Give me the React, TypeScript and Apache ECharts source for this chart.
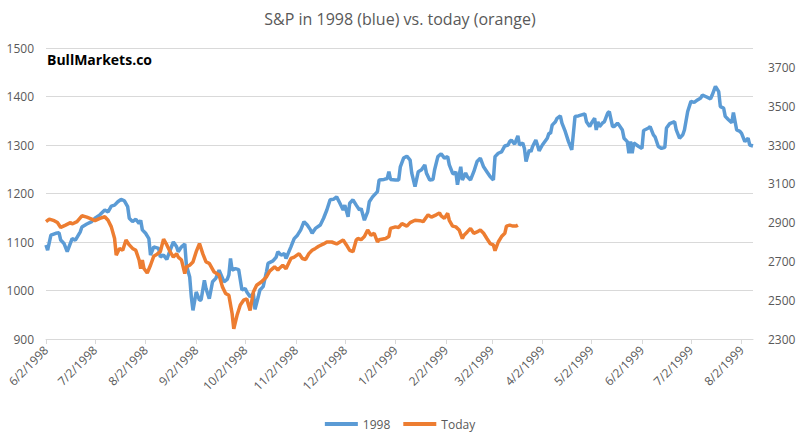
import React, { useEffect, useRef } from "react";
import * as echarts from "echarts";

// Calendar-day offsets from 6/2/1998 paired with values
const startDate = Date.UTC(1998, 5, 2);
const dayCount = 434; // 6/2/1998 .. 8/8/1999

const series1998: [number, number][] = [
  [0,1094],[1,1083],[3,1114],[6,1118],[8,1119],[9,1104],[11,1097],[13,1080],[16,1107],[18,1104],[21,1121],[22,1131],[25,1137],[28,1142],[30,1149],[33,1156],[36,1166],[38,1162],[40,1174],[42,1176],[44,1183],[46,1188],[48,1185],[50,1173],[51,1149],[53,1142],[55,1147],[57,1138],[58,1145],[59,1125],[61,1118],[63,1107],[64,1073],[66,1090],[69,1087],[70,1069],[72,1073],[74,1064],[76,1083],[78,1100],[80,1090],[81,1080],[83,1090],[85,1096],[86,1052],[88,1028],[89,987],[90,959],[92,997],[94,980],[95,981],[97,1021],[98,1004],[100,983],[102,1018],[104,1025],[106,1042],[109,1018],[111,1023],[112,1032],[113,1066],[114,1042],[116,1045],[118,1043],[120,1001],[122,1004],[123,997],[125,987],[127,994],[128,961],[130,987],[131,1001],[133,1008],[135,1038],[136,1056],[139,1061],[141,1069],[142,1080],[144,1073],[146,1076],[147,1066],[150,1090],[152,1107],[154,1114],[156,1125],[158,1142],[160,1135],[162,1125],[163,1118],[165,1128],[168,1135],[170,1149],[172,1166],[174,1187],[176,1188],[178,1193],[180,1180],[182,1166],[183,1176],[185,1152],[186,1180],[188,1187],[190,1176],[192,1166],[193,1169],[195,1145],[197,1162],[198,1183],[200,1193],[203,1204],[204,1228],[207,1229],[209,1231],[210,1245],[211,1229],[214,1228],[216,1228],[217,1255],[219,1273],[221,1277],[223,1269],[224,1242],[226,1214],[228,1245],[230,1249],[232,1259],[233,1242],[235,1228],[237,1229],[238,1249],[240,1276],[242,1282],[244,1273],[246,1276],[247,1259],[249,1242],[250,1240],[251,1245],[252,1218],[254,1255],[255,1228],[257,1242],[258,1235],[260,1228],[262,1245],[264,1266],[266,1273],[268,1255],[270,1245],[272,1235],[274,1228],[275,1276],[277,1283],[279,1286],[281,1298],[283,1300],[284,1307],[285,1310],[287,1302],[289,1319],[290,1300],[292,1304],[293,1293],[294,1266],[296,1290],[297,1286],[298,1297],[300,1310],[301,1300],[302,1288],[304,1300],[307,1314],[308,1324],[309,1324],[310,1341],[312,1348],[313,1355],[315,1360],[316,1345],[318,1328],[320,1307],[322,1290],[323,1324],[324,1359],[326,1360],[328,1362],[330,1364],[331,1348],[333,1338],[334,1345],[336,1355],[337,1331],[338,1348],[339,1338],[341,1346],[342,1348],[344,1366],[345,1369],[347,1338],[348,1338],[350,1345],[351,1341],[353,1331],[354,1314],[356,1307],[357,1283],[358,1307],[359,1283],[360,1304],[363,1297],[365,1293],[366,1330],[369,1335],[370,1338],[372,1321],[373,1317],[375,1297],[377,1293],[379,1295],[380,1335],[382,1344],[385,1348],[386,1331],[388,1314],[390,1321],[391,1331],[393,1369],[395,1390],[397,1388],[399,1393],[401,1397],[402,1403],[404,1400],[407,1395],[408,1403],[410,1421],[412,1410],[413,1379],[415,1376],[416,1359],[418,1352],[420,1346],[421,1367],[423,1331],[425,1328],[426,1324],[428,1307],[430,1314],[431,1300],[433,1298]
];

const seriesToday: [number, number][] = [
  [0,2905],[2,2918],[5,2910],[7,2900],[9,2875],[12,2887],[15,2900],[16,2893],[19,2905],[22,2935],[25,2928],[28,2918],[30,2910],[33,2922],[36,2930],[38,2912],[40,2878],[42,2818],[43,2732],[45,2767],[47,2757],[49,2810],[51,2785],[53,2767],[55,2757],[57,2707],[58,2663],[59,2707],[60,2663],[62,2640],[64,2680],[66,2727],[68,2737],[70,2750],[72,2815],[74,2785],[76,2750],[78,2722],[80,2740],[81,2722],[83,2707],[85,2637],[86,2672],[88,2680],[90,2697],[92,2750],[94,2792],[96,2740],[98,2697],[100,2690],[103,2645],[106,2630],[108,2570],[110,2535],[112,2525],[114,2430],[115,2352],[117,2422],[119,2475],[121,2500],[123,2507],[124,2475],[125,2447],[127,2542],[129,2577],[132,2595],[135,2620],[137,2650],[140,2672],[142,2655],[143,2665],[145,2680],[147,2662],[150,2715],[152,2722],[155,2740],[157,2715],[159,2710],[161,2740],[163,2757],[165,2767],[167,2778],[170,2790],[172,2800],[175,2800],[178,2790],[180,2800],[182,2810],[184,2785],[186,2757],[188,2750],[190,2810],[191,2818],[193,2812],[195,2828],[197,2862],[199,2835],[201,2845],[203,2800],[204,2812],[208,2818],[210,2828],[211,2870],[214,2878],[216,2875],[218,2895],[221,2882],[223,2900],[226,2912],[229,2910],[231,2905],[234,2940],[236,2928],[239,2940],[241,2950],[242,2935],[244,2922],[246,2948],[247,2912],[249,2882],[251,2878],[253,2862],[255,2818],[256,2835],[258,2852],[260,2870],[262,2845],[264,2852],[266,2862],[268,2845],[270,2818],[272,2792],[274,2785],[275,2755],[277,2800],[279,2828],[281,2845],[282,2882],[284,2887],[286,2882],[288,2882],[289,2887]
];

const leftTicks = { min: 900, max: 1500, interval: 100 };
const rightTicks = { min: 2300, max: 3800, interval: 100, labelStep: 200, lastLabel: 3700 };

function buildCategories(): string[] {
  const out: string[] = [];
  for (let i = 0; i < dayCount; i++) {
    const d = new Date(startDate + i * 86400000);
    out.push(`${d.getUTCMonth() + 1}/${d.getUTCDate()}/${d.getUTCFullYear()}`);
  }
  return out;
}

const FONT = "'Open Sans', 'Noto Sans', sans-serif";
const GREY = "#595959";

export default function App() {
  const ref = useRef<HTMLDivElement>(null);
  useEffect(() => {
    if (!ref.current) return;
    const chart = echarts.init(ref.current, undefined, { renderer: "svg" });
    const categories = buildCategories();
    const isSecond = (_: number, v: string) => v.split("/")[1] === "2";
    chart.setOption({
      animation: false,
      backgroundColor: "#ffffff",
      textStyle: { fontFamily: FONT },
      title: {
        text: "S&P in 1998 (blue) vs. today (orange)",
        left: "center",
        top: 6,
        textStyle: { fontFamily: FONT, fontSize: 16, fontWeight: "normal", color: GREY },
      },
      graphic: [
        {
          type: "text",
          left: 47,
          top: 52,
          style: { text: "BullMarkets.co", font: `bold 14px ${FONT}`, fill: "#000000" },
        },
      ],
      legend: {
        bottom: 5,
        left: "center",
        icon: "rect",
        itemWidth: 33,
        itemHeight: 4,
        itemGap: 13,
        textStyle: { fontFamily: FONT, fontSize: 12, color: GREY },
        data: ["1998", "Today"],
      },
      grid: { left: 46, right: 47, top: 48, bottom: 101 },
      xAxis: {
        type: "category",
        data: categories,
        boundaryGap: false,
        axisLine: { lineStyle: { color: "#d9d9d9" } },
        axisTick: { interval: isSecond, length: 5, lineStyle: { color: "#d9d9d9" } },
        axisLabel: {
          interval: isSecond,
          rotate: 45,
          margin: 9,
          fontFamily: FONT,
          fontSize: 12,
          color: GREY,
        },
        splitLine: { show: false },
      },
      yAxis: [
        {
          type: "value",
          min: leftTicks.min,
          max: leftTicks.max,
          interval: leftTicks.interval,
          axisLine: { show: false },
          axisTick: { show: false },
          axisLabel: {
            margin: 12,
            fontFamily: FONT,
            fontSize: 12,
            color: GREY,
            formatter: (v: number) => String(v),
          },
          splitLine: { lineStyle: { color: "#d9d9d9" } },
        },
        {
          type: "value",
          min: rightTicks.min,
          max: rightTicks.max,
          interval: rightTicks.interval,
          position: "right",
          axisLine: { show: false },
          axisTick: { show: false },
          splitLine: { show: false },
          axisLabel: {
            margin: 15,
            fontFamily: FONT,
            fontSize: 12,
            color: GREY,
            formatter: (v: number) =>
              (v - rightTicks.min) % rightTicks.labelStep === 0 && v <= rightTicks.lastLabel ? String(v) : "",
          },
        },
      ],
      series: [
        {
          name: "1998",
          type: "line",
          yAxisIndex: 0,
          data: series1998,
          symbol: "none",
          lineStyle: { color: "#5b9bd5", width: 3.5 },
          itemStyle: { color: "#5b9bd5" },
          z: 2,
        },
        {
          name: "Today",
          type: "line",
          yAxisIndex: 1,
          data: seriesToday,
          symbol: "none",
          lineStyle: { color: "#ed7d31", width: 3.5 },
          itemStyle: { color: "#ed7d31" },
          z: 3,
        },
      ],
    });
    return () => chart.dispose();
  }, []);
  return (
    <div
      ref={ref}
      style={{ position: "fixed", left: 0, top: 0, width: 800, height: 440, background: "#fff" }}
    />
  );
}
